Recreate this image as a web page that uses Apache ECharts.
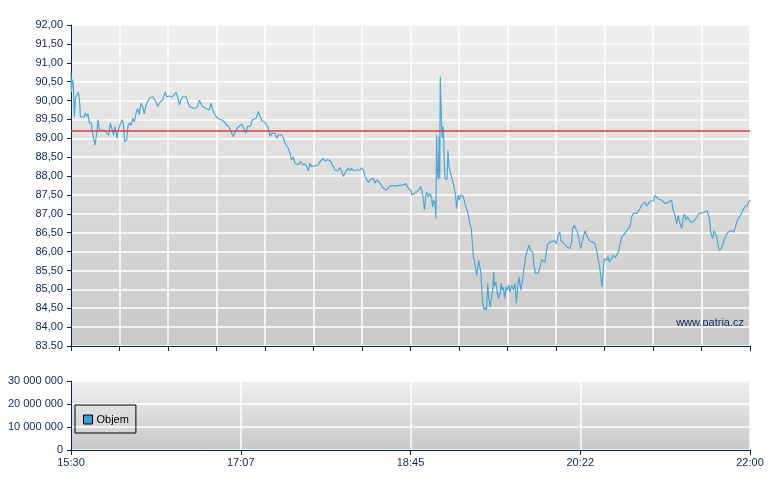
<!DOCTYPE html>
<html>
<head>
<meta charset="utf-8">
<script src="https://cdn.jsdelivr.net/npm/echarts@6/dist/echarts.min.js"></script>
<style>html,body{margin:0;padding:0;background:#fff}#c{width:780px;height:490px}</style>
</head>
<body>
<div id="c"></div>
<script>
// time in minutes after 15:30, price
var seg1 = [[0,90.72],[0.2,90.23],[0.8,90.55],[1.3,90.45],[1.9,89.57],[2.5,90.06],[3.4,90.10],[4.2,90.22],[4.8,90.06],[5.4,89.57],
[7.7,89.57],[8.2,89.67],[9.0,89.58],[9.8,89.65],[10.5,89.40],[11.7,89.40],[12.4,89.13],[13.8,88.82],[14.9,89.18],[15.5,89.49],
[16.3,89.22],[17.2,89.26],[19.1,89.22],[20.1,89.18],[21.6,89.08],[22.6,89.40],[23.5,89.35],[24.5,89.08],[25.1,89.31],[25.8,89.22],
[26.4,89.00],[27.4,89.26],[28.3,89.31],[29.3,89.49],[30.1,89.40],[30.8,88.91],[32.0,88.96],[32.7,89.31],[33.5,89.40],[34.7,89.35],
[35.4,89.53],[36.4,89.44],[37.3,89.65],[38.3,89.79],[39.2,89.62],[40.2,89.93],[41.2,89.84],[42.1,89.65],[43.1,89.88],[44.0,89.97],
[45.0,90.06],[45.9,90.06],[46.9,90.10],[47.9,90.15],[48.8,89.97],[49.8,89.84],[50.7,89.93],[51.7,89.93],[52.7,90.02],[53.6,90.15],
[54.2,90.23],[55.1,90.10],[56.5,90.12],[58.0,90.10],[59.3,90.15],[60.3,90.21],[61.3,90.10],[62.2,89.88],[63.2,90.02],[64.1,90.10],
[66.1,90.10],[67.0,89.97],[68.0,89.84],[68.9,89.79],[70.8,89.79],[72.8,89.84],[73.7,90.01],[74.7,89.97],[75.6,89.84],[77.5,89.79],
[78.5,89.84],[79.5,89.75],[80.4,89.93],[81.4,89.75],[82.3,89.65],[83.3,89.62],[84.2,89.53],[85.2,89.53],[86.2,89.49],[88.1,89.44],
[89.4,89.35],[90.6,89.31],[91.9,89.18],[93.2,89.04],[94.2,89.08],[95.2,89.26],[96.7,89.32]];
var seg2 = [[98.0,89.38],[99.0,89.29],[100.0,89.27],[100.5,89.13],[101.3,89.31],[102.2,89.36],[103.2,89.33],[104.2,89.49],[105.1,89.51],[106.3,89.53],
[107.6,89.71],[108.6,89.68],[109.5,89.47],[110.9,89.44],[112.0,89.38],[113.3,89.27],[114.3,89.05],[115.3,89.13],[116.2,89.09],[117.2,89.13],
[118.1,89.00],[119.1,89.09],[120.0,89.13],[121.0,89.09],[122.0,89.00],[122.9,88.87],[123.9,88.83],[124.8,88.74],[125.8,88.60],[126.7,88.43],
[127.7,88.50],[128.7,88.34],[129.6,88.38],[130.6,88.30],[131.9,88.38],[133.1,88.30],[134.4,88.32],[135.4,88.25],[136.3,88.14],[137.3,88.34],
[138.2,88.25],[139.2,88.21],[140.1,88.27],[141.1,88.25],[142.1,88.30],[143.0,88.38],[144.0,88.36],[144.9,88.47],[145.9,88.40],[147.2,88.43],
[148.8,88.41],[149.7,88.38],[150.7,88.25],[151.6,88.16],[152.6,88.18],[153.5,88.14],[154.5,88.23],[155.5,88.12],[156.4,87.99],[157.4,88.09],
[158.3,88.12],[159.3,88.21],[160.3,88.14],[161.2,88.21],[162.2,88.14],[163.1,88.18],[164.1,88.16],[165.0,88.21],[166.0,88.16],[167.0,88.22],
[167.9,88.16],[168.9,87.99],[169.8,87.94],[170.8,87.83],[171.7,87.90],[172.7,87.85],[173.7,87.94],[174.6,87.81],[175.6,87.90],[176.5,87.92],
[177.5,87.81],[178.4,87.74],[179.4,87.68],[180.4,87.65],[181.3,87.63],[182.3,87.59],[183.2,87.74],[184.2,87.76],[185.1,87.74],[186.1,87.76],
[187.1,87.74],[188.0,87.78]];
var seg3 = [[189.0,87.76],[189.9,87.73],[190.9,87.76],[191.8,87.72],[192.4,87.80],[193.8,87.67],[195.1,87.63],[195.9,87.50],[197.0,87.54],[198.5,87.58],
[199.7,87.63],[200.5,87.65],[201.0,87.72],[201.8,87.54],[202.4,87.36],[203.0,87.10],[203.7,87.45],[204.3,87.58],[205.2,87.45],[206.2,87.54],
[207.2,87.41],[207.7,87.19],[208.5,87.36],[209.1,87.27],[209.6,86.88],[210.0,89.09],[210.4,88.16],[211.0,87.90],[211.4,89.04],[211.8,87.94],
[212.1,90.63],[212.5,90.65],[212.9,89.31],[213.3,89.00],[213.7,89.31],[214.1,88.95],[214.4,88.42],[214.8,87.94],[215.4,87.90],[216.0,87.91],
[216.5,88.69],[217.1,88.25],[217.7,88.29],[218.3,88.03],[219.2,88.00],[220.0,87.72],[220.8,87.50],[221.5,87.14],[222.3,87.50],[223.1,87.36],
[223.8,87.50],[225.0,87.48],[225.9,87.36],[226.5,87.23],[227.3,87.26],[227.8,87.05],[228.4,87.10],[229.2,86.74],[229.9,86.61],[230.5,86.25],
[231.1,85.86],[231.7,85.77],[232.4,85.54],[233.0,85.37],[233.6,85.41],[234.2,85.77],[234.9,85.82],[235.5,85.41],[236.1,84.89],[236.8,84.53],
[237.4,84.45],[238.0,84.52],[238.7,84.45],[239.3,85.16],[239.9,84.80],[240.7,84.53],[241.4,84.55],[242.2,84.98],[242.8,85.46],[243.3,85.07],
[244.1,85.20],[244.9,84.89],[245.6,84.76],[246.4,84.89],[247.0,85.16],[247.6,84.98],[248.3,85.07],[249.1,84.76],[249.9,85.07],[250.6,84.98],
[251.4,85.11],[252.2,84.93],[253.1,85.11],[254.1,84.98],[255.0,85.16],[255.8,84.63],[256.6,85.07],[257.3,85.33]];
var seg4 = [[258.5,84.97],[259.4,84.93],[260.2,85.55],[261.1,85.86],[262.1,86.03],[263.1,86.17],[264.0,86.02],[265.2,85.99],[265.9,85.64],[266.7,85.43],
[267.5,85.46],[268.4,85.43],[269.4,85.59],[270.3,85.79],[271.3,85.84],[272.2,85.72],[273.0,85.77],[273.8,86.21],[274.7,86.25],[276.1,86.27],
[277.0,86.25],[278.0,86.28],[278.9,86.21],[279.7,86.43],[280.7,86.52],[281.4,86.30],[282.2,86.34],[283.2,86.21],[284.1,86.17],[285.1,86.12],
[286.0,86.17],[286.6,86.08],[287.6,86.25],[288.1,86.61],[289.1,86.70],[289.9,86.71],[290.8,86.52],[291.8,86.34],[292.7,86.08],[293.5,86.25],
[294.3,86.39],[295.2,86.55],[296.2,86.56],[297.1,86.34],[298.1,86.28],[299.6,86.25],[301.0,86.21],[301.9,86.03],[302.9,85.77],[303.8,85.55],
[304.4,85.28],[305.0,85.08],[305.6,85.46],[306.3,85.81],[307.1,85.86],[307.7,85.77],[308.4,85.87],[309.2,85.72],[310.0,85.68],[310.7,85.84],
[311.5,85.90],[312.5,85.84],[313.4,85.90],[314.4,85.99],[315.3,86.17],[316.3,86.39],[317.2,86.43],[318.2,86.48],[319.2,86.56],[320.1,86.61],
[321.1,86.65],[322.0,86.92],[323.0,87.01],[323.9,86.96],[324.9,87.01],[325.9,87.05],[326.8,87.14],[327.8,87.23],[328.7,87.18],[329.7,87.31],
[330.6,87.20],[331.6,87.27],[332.6,87.34],[333.5,87.31],[334.5,87.34],[335.4,87.49],[336.4,87.49],[337.3,87.40],[338.3,87.45],[339.3,87.36],
[340.2,87.31],[341.2,87.27],[342.1,87.29],[343.1,87.31],[344.0,87.34],[345.0,87.36],[345.6,87.14],[346.3,87.05],[347.1,86.92],[347.9,86.74],
[348.8,86.96],[349.8,86.74],[350.8,86.61],[351.7,86.92],[352.5,86.99],[353.2,86.83],[354.0,86.92],[355.0,86.85],[355.9,86.78],[356.9,86.83],
[357.8,86.81],[358.8,86.87],[359.8,86.92],[360.7,87.01],[361.7,87.05],[362.8,87.03],[364.2,87.05],[365.5,87.08],[366.3,87.09],[366.8,86.83],
[367.4,86.52],[368.0,86.48],[368.6,86.34],[369.3,86.55],[370.1,86.52],[370.9,86.39],[371.6,86.17],[372.4,86.03],[373.1,85.99],[373.9,86.12],
[374.7,86.25],[375.4,86.34],[376.2,86.43],[377.0,86.48],[377.7,86.52],[378.5,86.49],[379.3,86.56],[380.0,86.61],[380.8,86.52],[381.6,86.65],
[382.3,86.70],[383.1,86.87],[383.9,86.85],[384.6,86.96],[385.4,87.05],[386.2,87.09],[386.9,87.18],[387.7,87.14],[388.5,87.23],[389.2,87.31],
[390.0,87.36]];
var referencePrice = 89.21;
var volumeData = [[75.6, 150000]];
var timeLabels = ['15:30', '17:07', '18:45', '20:22', '22:00'];
var volumeTicks = ['0', '10 000 000', '20 000 000', '30 000 000'];

var priceData = seg1.concat(seg2, seg3, seg4);
var NAVY = '#0c2557';
var FONT = 'Liberation Sans';
var bg = {type: 'linear', x: 0, y: 0, x2: 0, y2: 1, colorStops: [{offset: 0, color: '#efefef'}, {offset: 1, color: '#c8c8c8'}]};

var chart = echarts.init(document.getElementById('c'), null, {renderer: 'canvas'});
chart.setOption({
  animation: false,
  backgroundColor: '#ffffff',
  textStyle: {fontFamily: FONT},
  grid: [
    {left: 71, right: 30, top: 25, height: 321, show: true, backgroundColor: bg, borderWidth: 0},
    {left: 71, right: 30, top: 381, height: 69, show: true, backgroundColor: bg, borderWidth: 0}
  ],
  legend: {
    data: ['Objem'], left: 75, top: 405, orient: 'vertical',
    padding: [9, 7, 8, 8], borderColor: '#000', borderWidth: 1, borderRadius: 0,
    itemWidth: 9, itemHeight: 9, itemGap: 4,
    itemStyle: {borderColor: '#000', borderWidth: 1},
    textStyle: {fontFamily: FONT, fontSize: 11, color: '#000', padding: [0, 0, 0, -1]},
    icon: 'rect'
  },
  graphic: [{
    type: 'text', right: 36, top: 317,
    style: {text: 'www.patria.cz', font: '11px "Liberation Sans"', fill: NAVY}
  }],
  xAxis: [
    {gridIndex: 0, type: 'value', min: 0, max: 390, interval: 390 / 14,
     axisLine: {lineStyle: {color: NAVY, width: 1}},
     axisTick: {show: true, length: 5, lineStyle: {color: NAVY}},
     axisLabel: {show: false},
     splitLine: {show: true, lineStyle: {color: '#ffffff', width: 1.5}}},
    {gridIndex: 1, type: 'value', min: 0, max: 390, interval: 97.5,
     axisLine: {lineStyle: {color: NAVY, width: 1}},
     axisTick: {show: true, length: 5, lineStyle: {color: NAVY}},
     axisLabel: {show: true, margin: 7, fontSize: 11, fontFamily: FONT, color: NAVY,
       formatter: function (v, i) { return timeLabels[Math.round(v / 97.5)]; }},
     splitLine: {show: true, lineStyle: {color: '#ffffff', width: 1.5}}}
  ],
  yAxis: [
    {gridIndex: 0, type: 'value', min: 83.5, max: 92, interval: 0.5,
     axisLine: {show: true, lineStyle: {color: NAVY, width: 1}},
     axisTick: {show: true, length: 4, lineStyle: {color: NAVY}},
     axisLabel: {margin: 8, fontSize: 11, fontFamily: FONT, color: NAVY,
       formatter: function (v) { var s = v.toFixed(2); return v === 83.5 ? s : s.replace('.', ','); }},
     splitLine: {show: true, lineStyle: {color: '#ffffff', width: 1.5}}},
    {gridIndex: 1, type: 'value', min: 0, max: 30000000, interval: 10000000,
     axisLine: {show: true, lineStyle: {color: NAVY, width: 1}},
     axisTick: {show: true, length: 4, lineStyle: {color: NAVY}},
     axisLabel: {margin: 8, fontSize: 11, fontFamily: FONT, color: NAVY,
       formatter: function (v) { return volumeTicks[Math.round(v / 10000000)]; }},
     splitLine: {show: true, lineStyle: {color: '#ffffff', width: 1.5}}}
  ],
  series: [
    {name: 'Cena', type: 'line', xAxisIndex: 0, yAxisIndex: 0, data: priceData,
     showSymbol: false, lineStyle: {color: '#4ea6d2', width: 1.2}, z: 3,
     markLine: {silent: true, symbol: 'none', label: {show: false},
       lineStyle: {color: 'rgba(222,60,60,0.75)', width: 2, type: 'solid'},
       data: [{yAxis: referencePrice}]}},
    {name: 'Objem', type: 'bar', xAxisIndex: 1, yAxisIndex: 1, data: volumeData,
     barWidth: 1, itemStyle: {color: '#3d9fd0'}}
  ]
});
</script>
</body>
</html>
